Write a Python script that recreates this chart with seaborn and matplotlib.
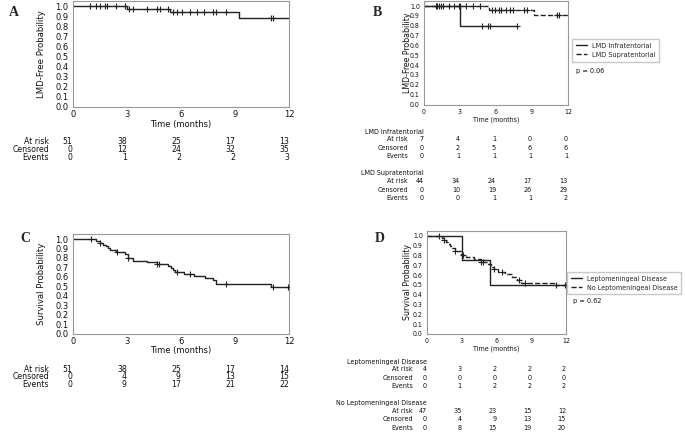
import numpy as np
import matplotlib
matplotlib.use("Agg")
import matplotlib.pyplot as plt
import matplotlib.transforms as mtransforms
import seaborn as sns

# ---- data ----
table_times = [0, 3, 6, 9, 12]

# A: LMD-free probability, whole cohort
a_t = [0, 3.0, 5.4, 9.2]
a_s = [1.0, 0.974, 0.937, 0.882]
a_end = 12.0
a_cens = [0.96, 1.27, 1.51, 1.81, 1.92, 2.42, 2.9, 3.1, 3.32, 4.1, 4.69, 4.84, 5.3,
          5.54, 5.76, 6.04, 6.5, 6.87, 7.27, 7.79, 7.94, 8.53, 11.02, 11.11]
a_at_risk = [51, 38, 25, 17, 13]
a_censored = [0, 12, 24, 32, 35]
a_events = [0, 1, 2, 2, 3]

# B: infratentorial vs supratentorial
b_inf_t = [0, 3.0]
b_inf_s = [1.0, 0.8]
b_inf_end = 7.75
b_inf_cens = [4.8, 5.35, 5.5, 7.75]
b_sup_t = [0, 5.4, 9.2]
b_sup_s = [1.0, 0.96, 0.908]
b_sup_end = 12.0
b_sup_cens = [0.97, 1.1, 1.25, 1.4, 1.6, 2.1, 2.5, 2.9, 3.0, 3.5, 4.1, 4.7,
              5.7, 5.9, 6.25, 6.45, 6.8, 7.2, 7.4, 8.3, 8.6, 11.05, 11.25]
b_inf_at_risk = [7, 4, 1, 0, 0]
b_inf_censored = [0, 2, 5, 6, 6]
b_inf_events = [0, 1, 1, 1, 1]
b_sup_at_risk = [44, 34, 24, 17, 13]
b_sup_censored = [0, 10, 19, 26, 29]
b_sup_events = [0, 0, 1, 1, 2]

# C: overall survival
c_t = [0, 1.3, 1.5, 1.7, 1.85, 1.95, 2.05, 2.4, 2.9, 3.05, 3.35, 4.1, 4.65, 5.3,
       5.45, 5.55, 5.65, 6.15, 6.75, 7.35, 7.8, 7.95, 11.0]
c_s = [1.0, 0.98, 0.961, 0.941, 0.922, 0.902, 0.882, 0.862, 0.842, 0.80, 0.772,
       0.752, 0.732, 0.711, 0.69, 0.669, 0.649, 0.63, 0.608, 0.585, 0.562, 0.525, 0.49]
c_end = 12.0
c_cens = [1.0, 1.51, 2.44, 3.08, 4.69, 4.8, 5.76, 6.5, 8.53, 11.1, 11.95]
c_at_risk = [51, 38, 25, 17, 14]
c_censored = [0, 4, 9, 13, 15]
c_events = [0, 9, 17, 21, 22]

# D: leptomeningeal disease vs none
d_lmd_t = [0, 3.0, 5.4]
d_lmd_s = [1.0, 0.75, 0.5]
d_lmd_end = 12.0
d_lmd_cens = []
d_no_t = [0, 1.3, 1.5, 1.65, 1.8, 1.95, 2.15, 2.45, 2.9, 3.4, 4.1, 4.65, 5.3, 5.55,
          5.75, 6.15, 6.7, 7.3, 7.8, 8.1, 11.0]
d_no_s = [1.0, 0.979, 0.957, 0.936, 0.915, 0.894, 0.872, 0.851, 0.81, 0.785, 0.762,
          0.739, 0.712, 0.686, 0.66, 0.634, 0.607, 0.58, 0.553, 0.525, 0.495]
d_no_end = 12.0
d_no_cens = [1.06, 1.5, 2.45, 3.1, 4.7, 4.8, 5.75, 6.5, 7.95, 8.5, 11.1, 11.9]
d_lmd_at_risk = [4, 3, 2, 2, 2]
d_lmd_censored = [0, 0, 0, 0, 0]
d_lmd_events = [0, 1, 2, 2, 2]
d_no_at_risk = [47, 35, 23, 15, 12]
d_no_censored = [0, 4, 9, 13, 15]
d_no_events = [0, 8, 15, 19, 20]

sns.set_style("white")
plt.rcParams["font.family"] = ["DejaVu Sans"]

W, H = 685, 432
fig = plt.figure(figsize=(W / 100, H / 100), dpi=100)
LINE = "#222222"
TXT = "#111111"


def fx(x):
    return x / W


def fy(y):
    return 1 - y / H


def px_axes(l, t, r, b):
    return fig.add_axes([fx(l), fy(b), (r - l) / W, (b - t) / H])


def km(ax, t, s, end, cens, ls="-", label=None):
    xs = list(t) + [end]
    ys = list(s) + [s[-1]]
    sns.lineplot(x=xs, y=ys, ax=ax, drawstyle="steps-post", color=LINE, lw=1.0,
                 linestyle=ls, label=label, estimator=None, sort=False)
    if cens:
        cy = [s[np.searchsorted(t, c, side="right") - 1] for c in cens]
        sns.scatterplot(x=cens, y=cy, ax=ax, marker="+", color=LINE, s=18,
                        linewidth=0.8, legend=False, zorder=3)


def style(ax, fs, stretch, ylabel, ylab_fs, ylab_x, xlab_pad, xpad):
    ax.set_xlim(0, 12)
    ax.set_ylim(0, 1.05)
    ax.set_xticks(table_times)
    ax.set_yticks(np.arange(0, 1.01, 0.1))
    ax.set_yticklabels([f"{v:.1f}" for v in np.arange(0, 1.01, 0.1)])
    for sp in ax.spines.values():
        sp.set_visible(True)
        sp.set_color("#999999")
        sp.set_linewidth(0.8)
    ax.tick_params(axis="both", length=2, width=0.6, color="#666666", pad=1.0,
                   labelsize=fs, labelcolor=TXT)
    ax.tick_params(axis="x", pad=xpad)
    for lab in ax.get_xticklabels() + ax.get_yticklabels():
        lab.set_fontstretch(stretch)
    ax.set_xlabel("Time (months)", fontsize=fs, fontstretch=stretch,
                  labelpad=xlab_pad, color=TXT)
    ax.set_ylabel(ylabel, fontsize=ylab_fs, fontstretch="condensed", color=TXT)
    ax.yaxis.set_label_coords(fx(ylab_x), 0.5)
    ax.yaxis.label.set_transform(
        mtransforms.blended_transform_factory(fig.transFigure, ax.transAxes))
    ax.yaxis.label.set_verticalalignment("center")


def risk_rows(ax, rows, ys, label_x, fs, stretch, title=None, title_y=None):
    tr = mtransforms.blended_transform_factory(ax.transData, fig.transFigure)
    names = ["At risk", "Censored", "Events"]
    if title is not None:
        fig.text(ax.get_position().x0, fy(title_y), title, ha="right",
                 va="center", fontsize=fs, fontstretch=stretch, color=TXT)
    for name, vals, y in zip(names, rows, ys):
        fig.text(fx(label_x), fy(y), name, ha="right", va="center", fontsize=fs,
                 fontstretch=stretch, color=TXT)
        for t, v in zip(table_times, vals):
            ax.text(t, fy(y), str(v), transform=tr, ha="right", va="center",
                    fontsize=fs, fontstretch=stretch, color=TXT)


def legend(ax, labels, x, y, fs):
    ax.legend(handles=ax.get_lines()[:2], labels=labels, loc="upper left",
              bbox_to_anchor=(fx(x), fy(y)), bbox_transform=fig.transFigure,
              borderaxespad=0, prop={"size": fs, "stretch": "condensed"},
              frameon=True, edgecolor="#bbbbbb", fancybox=False,
              handlelength=1.6, borderpad=0.5, labelspacing=0.45,
              handletextpad=0.7)


# ---- panel A ----
axA = px_axes(72.7, 1.0, 289, 107)
km(axA, a_t, a_s, a_end, a_cens)
style(axA, 6, "normal", "LMD-Free Probability", 6.8, 42, 0.5, 0.3)
risk_rows(axA, [a_at_risk, a_censored, a_events], [142, 150, 158], 49, 5.6, "normal")

# ---- panel C ----
axC = px_axes(72.7, 234.3, 289, 333.5)
km(axC, c_t, c_s, c_end, c_cens)
style(axC, 6, "normal", "Survival Probability", 6.8, 42, 0.5, 0.3)
risk_rows(axC, [c_at_risk, c_censored, c_events], [369, 376.7, 384.3], 49, 5.6, "normal")

# ---- panel B ----
axB = px_axes(424, 1.1, 568, 104.5)
km(axB, b_inf_t, b_inf_s, b_inf_end, b_inf_cens, "-", "LMD Infratentorial")
km(axB, b_sup_t, b_sup_s, b_sup_end, b_sup_cens, "--", "LMD Supratentorial")
style(axB, 5.0, "condensed", "LMD-Free Probability", 6.3, 407, 1.2, 1.0)
legend(axB, ["LMD Infratentorial", "LMD Supratentorial"], 572, 39, 5.2)
fig.text(fx(576), fy(71), "p = 0.06", ha="left", va="center", fontsize=5.2,
         fontstretch="condensed", color=TXT)
risk_rows(axB, [b_inf_at_risk, b_inf_censored, b_inf_events], [139.3, 147.7, 156],
          408, 5.1, "condensed", "LMD Infratentorial", 131.7)
risk_rows(axB, [b_sup_at_risk, b_sup_censored, b_sup_events], [181, 189.5, 197.7],
          408, 5.1, "condensed", "LMD Supratentorial", 172.7)

# ---- panel D ----
axD = px_axes(427, 231, 566, 334)
km(axD, d_lmd_t, d_lmd_s, d_lmd_end, d_lmd_cens, "-", "Leptomeningeal Disease")
km(axD, d_no_t, d_no_s, d_no_end, d_no_cens, "--", "No Leptomeningeal Disease")
style(axD, 5.0, "condensed", "Survival Probability", 6.3, 408, 1.2, 1.0)
legend(axD, ["Leptomeningeal Disease", "No Leptomeningeal Disease"], 567, 272, 5.1)
fig.text(fx(573), fy(301), "p = 0.62", ha="left", va="center", fontsize=5.2,
         fontstretch="condensed", color=TXT)
risk_rows(axD, [d_lmd_at_risk, d_lmd_censored, d_lmd_events], [369.3, 377.7, 386],
          413, 5.1, "condensed", "Leptomeningeal Disease", 361.7)
risk_rows(axD, [d_no_at_risk, d_no_censored, d_no_events], [411, 419.3, 427.7],
          413, 5.1, "condensed", "No Leptomeningeal Disease", 402.7)

# panel letters
for letter, x, y in [("A", 14, 12.5), ("B", 377, 12.5), ("C", 25, 239), ("D", 380, 239)]:
    fig.text(fx(x), fy(y), letter, ha="center", va="center", fontsize=10,
             fontweight="bold", family=["Liberation Serif", "DejaVu Serif"])

fig.savefig("out.png", dpi=100)
